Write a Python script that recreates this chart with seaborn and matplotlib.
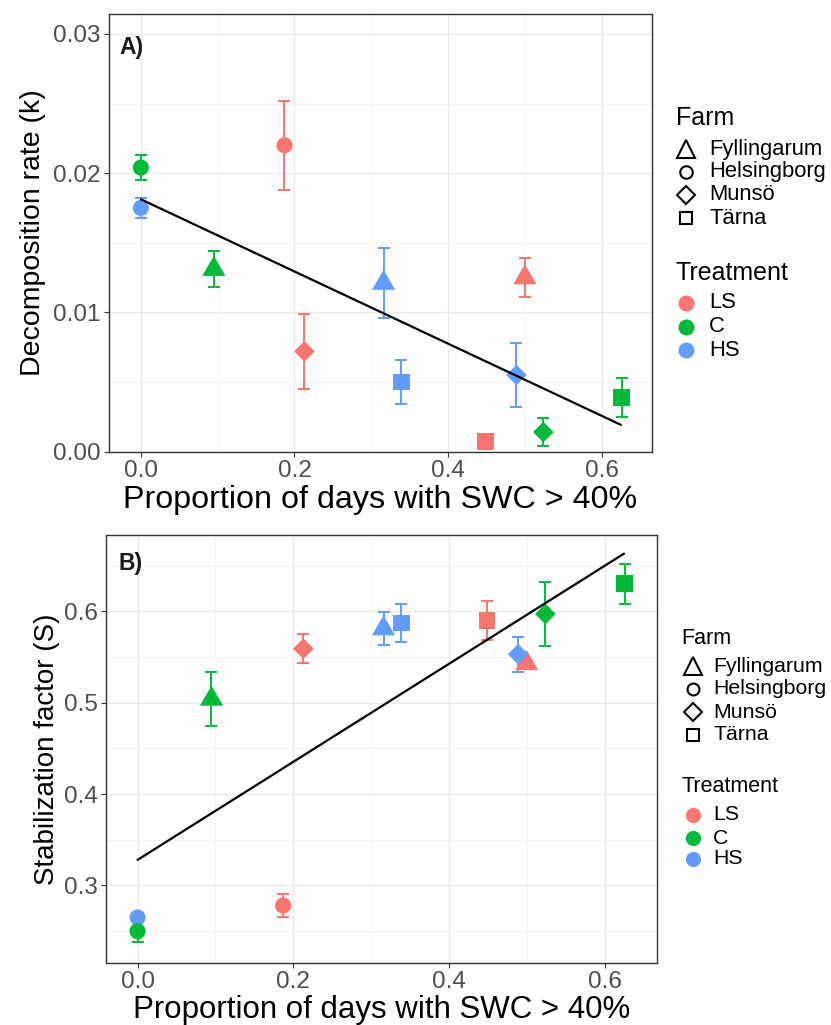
import numpy as np
import pandas as pd
import matplotlib
matplotlib.use("Agg")
import matplotlib.pyplot as plt
import seaborn as sns
from matplotlib.ticker import MultipleLocator, FormatStrFormatter

# ---------------- data ----------------
treatment = ['HS', 'C', 'C', 'LS', 'LS', 'HS', 'HS', 'LS', 'LS', 'HS', 'C', 'C']
farm = ['Helsingborg', 'Helsingborg', 'Fyllingarum', 'Helsingborg', 'Munsö', 'Fyllingarum',
        'Tärna', 'Tärna', 'Fyllingarum', 'Munsö', 'Munsö', 'Tärna']
swc_prop = [0.0, 0.0, 0.095, 0.187, 0.213, 0.316, 0.339, 0.449, 0.500, 0.489, 0.524, 0.626]
k_mean = [0.0175, 0.0204, 0.0131, 0.0220, 0.0072, 0.0121, 0.0050, 0.0007, 0.0125, 0.0055, 0.0014, 0.0039]
k_se = [0.0007, 0.0009, 0.0013, 0.0032, 0.0027, 0.0025, 0.0016, 0.0002, 0.0014, 0.0023, 0.0010, 0.0014]
s_mean = [0.265, 0.250, 0.504, 0.278, 0.559, 0.581, 0.587, 0.590, 0.543, 0.553, 0.597, 0.630]
s_se = [0.003, 0.012, 0.029, 0.013, 0.016, 0.018, 0.021, 0.021, 0.003, 0.019, 0.035, 0.022]

fit_x = [0.0, 0.625]
fit_k = [0.01812, 0.00192]
fit_s = [0.328, 0.663]

farm_levels = ['Fyllingarum', 'Helsingborg', 'Munsö', 'Tärna']
treat_levels = ['LS', 'C', 'HS']

# ---------------- styles ----------------
palette = {'LS': '#F8766D', 'C': '#00BA38', 'HS': '#619CFF'}
tri = [(0.0, 0.577), (-0.5, -0.289), (0.5, -0.289), (0.0, 0.577)]
markers = {'Fyllingarum': tri, 'Helsingborg': 'o', 'Munsö': 'D', 'Tärna': 's'}
sizes = {'Fyllingarum': 370, 'Helsingborg': 135, 'Munsö': 110, 'Tärna': 145}

df = pd.DataFrame({'treatment': treatment, 'farm': farm, 'x': swc_prop,
                   'k': k_mean, 'k_se': k_se, 's': s_mean, 's_se': s_se})

sns.set_theme(style="white")
plt.rcParams['font.family'] = ['Liberation Sans', 'DejaVu Sans']

W, H = 831, 1025
fig = plt.figure(figsize=(W / 100, H / 100), dpi=100)


def px_axes(l, t, r, b):
    return fig.add_axes([l / W, 1 - b / H, (r - l) / W, (b - t) / H])


def style_axes(ax, tick_size):
    ax.set_facecolor('white')
    ax.grid(True, which='major', color='#EBEBEB', linewidth=1.0)
    ax.grid(True, which='minor', color='#F2F2F2', linewidth=0.6)
    ax.set_axisbelow(True)
    for sp in ax.spines.values():
        sp.set_visible(True)
        sp.set_color('#333333')
        sp.set_linewidth(1.0)
    ax.tick_params(axis='both', which='major', length=3.5, width=0.8, color='#333333',
                   labelsize=tick_size, labelcolor='#4D4D4D', pad=2.5, direction='out',
                   bottom=True, left=True)
    ax.tick_params(axis='both', which='minor', length=0)


def draw_panel(ax, ycol, secol, fit_y):
    for i, row in df.iterrows():
        ax.errorbar(row['x'], row[ycol], yerr=row[secol], fmt='none',
                    ecolor=palette[row['treatment']], elinewidth=1.4,
                    capsize=4.3, capthick=1.4, zorder=2)
    sns.scatterplot(data=df, x='x', y=ycol, hue='treatment', style='farm', size='farm',
                    hue_order=treat_levels, style_order=farm_levels, size_order=farm_levels,
                    palette=palette, markers=markers, sizes=sizes, linewidth=0,
                    legend=False, ax=ax, zorder=3)
    sns.lineplot(x=fit_x, y=fit_y, color='black', linewidth=1.6, ax=ax, zorder=4)


# ---------------- panel A ----------------
axA = px_axes(109, 14, 652, 452)
draw_panel(axA, 'k', 'k_se', fit_k)
axA.set_xlim(-0.0415, 0.6655)
axA.set_ylim(-0.00003, 0.03143)
axA.xaxis.set_major_locator(MultipleLocator(0.2))
axA.xaxis.set_minor_locator(MultipleLocator(0.1))
axA.yaxis.set_major_locator(MultipleLocator(0.01))
axA.yaxis.set_minor_locator(MultipleLocator(0.005))
axA.xaxis.set_major_formatter(FormatStrFormatter('%.1f'))
axA.yaxis.set_major_formatter(FormatStrFormatter('%.2f'))
style_axes(axA, 17.5)
axA.set_xlabel('Proportion of days with SWC > 40%', fontsize=23.2, color='black', labelpad=2)
axA.set_ylabel('Decomposition rate (k)', fontsize=20.5, color='black', labelpad=5)
axA.text(0.02, 0.923, 'A)', transform=axA.transAxes, fontsize=16.5, fontweight='bold',
         color='#1A1A1A', va='center', ha='left')

# ---------------- panel B ----------------
axB = px_axes(106.5, 535, 657, 963)
draw_panel(axB, 's', 's_se', fit_s)
axB.set_xlim(-0.0399, 0.6674)
axB.set_ylim(0.2152, 0.6834)
axB.xaxis.set_major_locator(MultipleLocator(0.2))
axB.xaxis.set_minor_locator(MultipleLocator(0.1))
axB.yaxis.set_major_locator(MultipleLocator(0.1))
axB.yaxis.set_minor_locator(MultipleLocator(0.05))
axB.xaxis.set_major_formatter(FormatStrFormatter('%.1f'))
axB.yaxis.set_major_formatter(FormatStrFormatter('%.1f'))
style_axes(axB, 17.5)
axB.set_xlabel('Proportion of days with SWC > 40%', fontsize=22.5, color='black', labelpad=1)
axB.set_ylabel('Stabilization factor (S)', fontsize=20, color='black', labelpad=3)
axB.text(0.021, 0.933, 'B)', transform=axB.transAxes, fontsize=16.5, fontweight='bold',
         color='#1A1A1A', va='center', ha='left')


# ---------------- legends (drawn in pixel space) ----------------
def draw_legend(x_title, y_title, farm_ys, x_mark, x_text, treat_title_y, treat_ys,
                title_fs, label_fs, scale):
    lax = fig.add_axes([0, 0, 1, 1], facecolor='none')
    lax.set_xlim(0, W)
    lax.set_ylim(H, 0)
    lax.axis('off')
    lax.text(x_title, y_title, 'Farm', fontsize=title_fs, va='center', ha='left', color='black')
    msz = {'Fyllingarum': 13 * scale, 'Helsingborg': 9 * scale, 'Munsö': 9.5 * scale, 'Tärna': 8.5 * scale}
    for f, y in zip(farm_levels, farm_ys):
        lax.plot([x_mark], [y], marker='^' if f == 'Fyllingarum' else markers[f],
                 markersize=msz[f], markerfacecolor='none',
                 markeredgecolor='black', markeredgewidth=1.5, linestyle='none')
        lax.text(x_text, y, f, fontsize=label_fs, va='center', ha='left', color='black')
    lax.text(x_title, treat_title_y, 'Treatment', fontsize=title_fs, va='center', ha='left',
             color='black')
    for t, y in zip(treat_levels, treat_ys):
        lax.plot([x_mark], [y], marker='o', markersize=11.5 * scale, markerfacecolor=palette[t],
                 markeredgecolor='none', linestyle='none')
        lax.text(x_text, y, t, fontsize=label_fs, va='center', ha='left', color='black')


draw_legend(676, 118, [149, 172, 195, 218], 686, 709, 273, [303, 327, 350], 18, 15.8, 1.0)
draw_legend(681, 638, [666, 689, 712, 735], 693, 713, 787, [815, 838, 859], 15.5, 15.3, 0.95)

fig.savefig('out.png', dpi=100, facecolor='white')
